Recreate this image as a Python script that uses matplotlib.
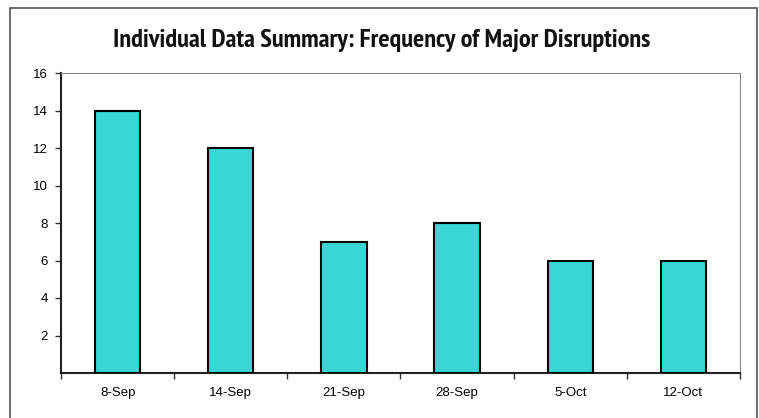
import matplotlib.pyplot as plt
from matplotlib.patches import Rectangle

plt.rcParams['font.family'] = ['Liberation Sans', 'DejaVu Sans']

weeks = ['8-Sep', '14-Sep', '21-Sep', '28-Sep', '5-Oct', '12-Oct']
disruptions = [14, 12, 7, 8, 6, 6]
y_ticks = [2, 4, 6, 8, 10, 12, 14, 16]

W, H = 759, 418
fig = plt.figure(figsize=(W / 100, H / 100), dpi=100)

# outer frame round the chart (its bottom edge falls below the picture)
fig.patches.append(Rectangle((10 / W, -0.02), 747 / W, 1.02 - 8 / H, transform=fig.transFigure,
                             fill=False, edgecolor='#555555', linewidth=1.2))

ax = fig.add_axes([61 / W, 45 / H, 679 / W, 300 / H])
x = range(len(weeks))
ax.bar(x, disruptions, width=0.4, color='#3AD6D6', edgecolor='black', linewidth=1.5, zorder=3)

ax.set_xlim(-0.5, len(weeks) - 0.5)
ax.set_ylim(0, 16)
ax.set_yticks(y_ticks)
ax.set_yticklabels([str(v) for v in y_ticks], fontsize=9.5)
ax.set_xticks(list(x))
ax.set_xticklabels(weeks, fontsize=9.5)
ax.set_xticks([i - 0.5 for i in range(len(weeks) + 1)], minor=True)
ax.tick_params(axis='x', which='major', length=0, pad=10)
ax.tick_params(axis='x', which='minor', length=4, width=1, color='#333333')
ax.tick_params(axis='y', length=4, width=1, color='#333333', pad=5.5)

ax.spines['left'].set_color('#222222')
ax.spines['bottom'].set_color('#222222')
ax.spines['left'].set_linewidth(1.5)
ax.spines['bottom'].set_linewidth(1.5)
ax.spines['top'].set_color('#888888')
ax.spines['right'].set_color('#888888')

fig.text(382 / W, 1 - 47 / H, 'Individual Data Summary: Frequency of Major Disruptions',
         ha='center', va='baseline', fontsize=19, fontweight='bold',
         family=['PT Sans Narrow', 'DejaVu Sans'], color='#111111')

plt.savefig('out.png', dpi=100)
